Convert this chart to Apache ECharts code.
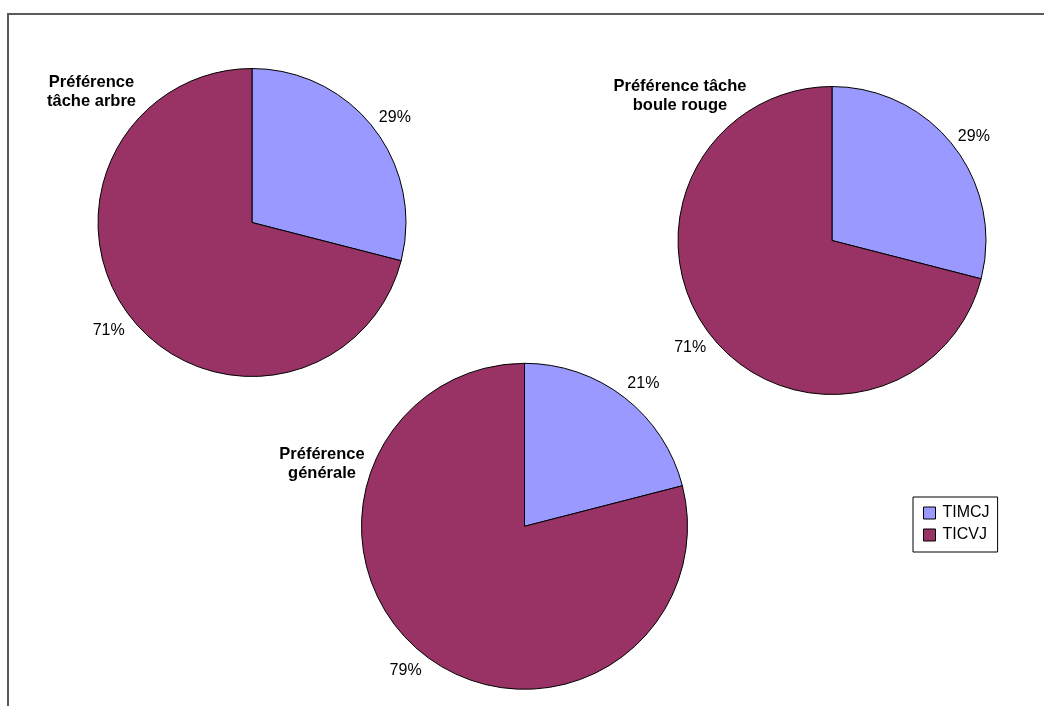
<!DOCTYPE html>
<html><head><meta charset="utf-8">
<script src="https://cdn.jsdelivr.net/npm/echarts@6/dist/echarts.min.js"></script>
<style>html,body{margin:0;padding:0;background:#fff}#c{width:1044px;height:706px}</style>
</head><body><div id="c"></div>
<script>
// ---- data ----
const categories = ['TIMCJ', 'TICVJ'];
const chartTitles = ['Préférence\ntâche arbre', 'Préférence tâche\nboule rouge', 'Préférence\ngénérale'];
const valuesArbre = [29, 71];
const valuesBoule = [29, 71];
const valuesGenerale = [21, 79];

// ---- style / layout ----
const colors = ['#9999FF', '#993366'];
const FONT = '"Liberation Sans", Arial, sans-serif';
// label vertical shifts: negative = up (blank line after), positive = down (blank line before)
const pies = [
  { values: valuesArbre, title: chartTitles[0], center: [252, 222.5], r: 154, titleXY: [91.5, 73],
    shifts: [-8, 11], hpad: [2, 2.5] },
  { values: valuesBoule, title: chartTitles[1], center: [832, 240.5], r: 154, titleXY: [680, 77],
    shifts: [-7, 10], hpad: [1, 1] },
  { values: valuesGenerale, title: chartTitles[2], center: [524.5, 526.3], r: 163, titleXY: [322, 445],
    shifts: [-11, 12], hpad: [0.5, 0.5] }
];

function labelFor(shift, hp, i) {
  const lh = Math.abs(shift) * 2;
  const fmt = shift < 0 ? '{c}%\n\u00a0' : '\u00a0\n{c}%';
  return {
    formatter: fmt, lineHeight: lh,
    padding: i === 0 ? [0, 0, 0, hp] : [0, hp, 0, 0]
  };
}

const series = pies.map(p => ({
  type: 'pie',
  center: p.center,
  radius: p.r,
  startAngle: 90,
  clockwise: true,
  avoidLabelOverlap: false,
  animation: false,
  emphasis: { disabled: true },
  itemStyle: { borderColor: '#000', borderWidth: 1 },
  label: {
    show: true, position: 'outside', formatter: '{c}%',
    fontFamily: FONT, fontSize: 16, color: '#000', distanceToLabelLine: 0
  },
  labelLine: { show: false, length: 4, length2: 0 },
  data: categories.map((name, i) => ({
    name, value: p.values[i],
    itemStyle: { color: colors[i] },
    label: labelFor(p.shifts[i], p.hpad[i], i)
  }))
}));

const graphics = [
  { type: 'rect', shape: { x: 8, y: 14, width: 1200, height: 900 }, silent: true,
    style: { fill: 'none', stroke: '#5a5a5a', lineWidth: 2 } }
].concat(pies.map(p => ({
  type: 'text', x: p.titleXY[0], y: p.titleXY[1], silent: true,
  style: { text: p.title, fill: '#000', font: 'bold 16.5px ' + FONT, textAlign: 'center',
           textVerticalAlign: 'top', lineHeight: 19 }
})));

const chart = echarts.init(document.getElementById('c'), null, { renderer: 'canvas' });
chart.setOption({
  backgroundColor: '#fff',
  animation: false,
  color: colors,
  legend: {
    data: categories, orient: 'vertical', left: 913, top: 497,
    padding: [8, 8, 9, 10], itemGap: 6, itemWidth: 12, itemHeight: 12,
    icon: 'rect', backgroundColor: '#fff', borderColor: '#000', borderWidth: 1,
    itemStyle: { borderColor: '#000', borderWidth: 1 },
    textStyle: { fontFamily: FONT, fontSize: 16, color: '#000', padding: [0, 0, 0, 2] },
    selectedMode: false
  },
  graphic: graphics,
  series
});
</script></body></html>
